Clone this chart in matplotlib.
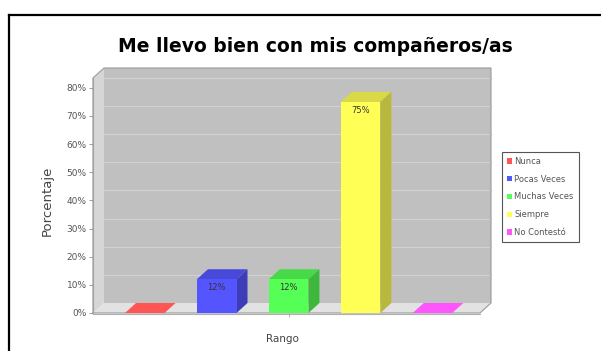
import numpy as np
import matplotlib.pyplot as plt
from matplotlib.patches import Polygon, Patch
from matplotlib.lines import Line2D
from matplotlib.colors import to_rgb

categories = ['Nunca', 'Pocas Veces', 'Muchas Veces', 'Siempre', 'No Contestó']
percentages = [0, 12, 12, 75, 0]
colors = ['#ff5555', '#5555ff', '#55ff55', '#ffff55', '#ff55ff']
y_ticks = [0, 10, 20, 30, 40, 50, 60, 70, 80]

DX, DY = 11, 10  # depth of the 3d box, in pixels
W, H = 601, 351

fig = plt.figure(figsize=(W / 100, H / 100), dpi=100)
ax = fig.add_axes([93 / W, 38 / H, 387 / W, 235 / H])
ax.set_xlim(-0.72, 4.66)
ax.set_ylim(0, 83.5)
ax.patch.set_visible(False)
x0, x1 = ax.get_xlim()
y0, y1 = ax.get_ylim()

to_fig = fig.transFigure.inverted()


def pt(x, y, back=False):
    p = ax.transData.transform((x, y))
    if back:
        p = p + (DX, DY)
    return to_fig.transform(p)


def face(points, color, z, ec='none', lw=0):
    poly = Polygon([pt(*p) for p in points], closed=True, facecolor=color,
                   edgecolor=ec, linewidth=lw, transform=fig.transFigure,
                   clip_on=False, zorder=z)
    ax.add_patch(poly)


def shade(c, f):
    return tuple(np.array(to_rgb(c)) * f)


# walls and floor
face([(x0, y0, True), (x1, y0, True), (x1, y1, True), (x0, y1, True)], '#c0c0c0', 0)
face([(x0, y0), (x0, y1), (x0, y1, True), (x0, y0, True)], '#d6d6d6', 0)
face([(x0, y0), (x1, y0), (x1, y0, True), (x0, y0, True)], '#e2e2e2', 0)
for t in y_ticks[1:]:
    a, b = pt(x0, t, True), pt(x1, t, True)
    ax.add_line(Line2D([a[0], b[0]], [a[1], b[1]], color='#d2d2d2', lw=0.8,
                       transform=fig.transFigure, clip_on=False, zorder=0.5))
# outline of the box
outline = [pt(x0, y0), pt(x0, y1), pt(x0, y1, True), pt(x1, y1, True),
           pt(x1, y0, True), pt(x1, y0), pt(x0, y0)]
ax.add_line(Line2D([p[0] for p in outline], [p[1] for p in outline], color='#9a9a9a',
                   lw=0.8, transform=fig.transFigure, clip_on=False, zorder=0.6))

# bars
bw = 0.55
xs = np.arange(len(categories))
ax.bar(xs, percentages, width=bw, color=colors, zorder=3, clip_on=False)
for x, v, c in zip(xs, percentages, colors):
    l, r = x - bw / 2, x + bw / 2
    top_c = c if v == 0 else shade(c, 0.85)
    face([(l, v), (r, v), (r, v, True), (l, v, True)], top_c, 2.5)
    if v > 0:
        face([(r, 0), (r, v), (r, v, True), (r, 0, True)], shade(c, 0.72), 2.5)
        ax.annotate(f'{v}%', (x, v), xytext=(0, -3), textcoords='offset points',
                    ha='center', va='top', fontsize=6, color='#333333', zorder=4)

# axes
for s in ['top', 'right', 'bottom']:
    ax.spines[s].set_visible(False)
ax.spines['left'].set_color('#a0a0a0')
ax.spines['left'].set_linewidth(0.8)
ax.set_yticks(y_ticks)
ax.set_yticklabels([f'{t}%' for t in y_ticks])
ax.tick_params(axis='y', length=3, width=0.6, color='#909090', labelsize=6.5,
               labelcolor='#555555', pad=1.5)
ax.set_xticks([2])
ax.set_xticklabels([''])
ax.tick_params(axis='x', length=3, width=0.6, color='#a0a0a0')
floor = [pt(x0, 0), pt(x1, 0)]
ax.add_line(Line2D([floor[0][0], floor[1][0]], [floor[0][1] - 0.004, floor[1][1] - 0.004],
                   color='#b0b0b0', lw=0.8, transform=fig.transFigure, clip_on=False))

fig.text(47 / W, 1 - 201 / H, 'Porcentaje', rotation=90, ha='center', va='center',
         fontsize=9.5, color='#444444')
fig.text(282 / W, 1 - 339 / H, 'Rango', ha='center', va='center', fontsize=7.5,
         color='#444444')
fig.text(315 / W, 1 - 46 / H, 'Me llevo bien con mis compañeros/as', ha='center',
         va='center', fontsize=13.5, fontweight='bold', color='black')

handles = [Patch(facecolor=c, edgecolor='none') for c in colors]
leg = fig.legend(handles, categories, loc='upper left',
                 bbox_to_anchor=(502 / W, 1 - 152 / H), fontsize=6,
                 handlelength=0.6, handleheight=0.6, handletextpad=0.3,
                 labelspacing=1.05, borderpad=0.6, borderaxespad=0, fancybox=False,
                 edgecolor='#555555', framealpha=1)
leg.get_frame().set_linewidth(0.8)
for t in leg.get_texts():
    t.set_color('#555555')

# cell border
fig.add_artist(Line2D([9 / W, 1], [1 - 15 / H, 1 - 15 / H], color='black', lw=1.6,
                      transform=fig.transFigure))
fig.add_artist(Line2D([9 / W, 9 / W], [0, 1 - 15 / H], color='black', lw=1.6,
                      transform=fig.transFigure))

fig.savefig('out.png', dpi=100)
